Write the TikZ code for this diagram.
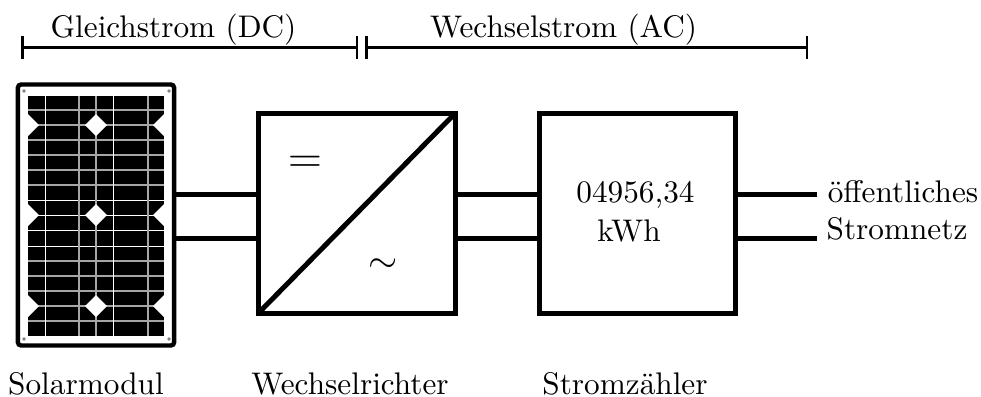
\documentclass[tikz,border=0pt]{standalone}
\usetikzlibrary{arrows.meta}
\tikzset{
    block/.style={draw, line width=1.6pt, minimum width=63pt, minimum height=64pt, inner sep=0pt},
    wire/.style={line width=1.6pt},
    span/.style={line width=.95pt, {Bar[width=7.4pt,line width=.8pt]}-{Bar[width=7.4pt,line width=.8pt]}},
    caption/.style={inner sep=0pt, anchor=base},
    cellline/.style={gray!70, line width=.35pt},
    brightline/.style={white, line width=.3pt},
    gap/.style={fill=white, draw=none},
    screw/.style={circle, fill=gray, inner sep=0pt, minimum size=1.2pt}
}
\begin{document}
\begin{tikzpicture}[x=.32pt, y=-.32pt]
    \useasboundingbox (0,0) rectangle (981,396);
    % module
    \node (panel) [draw, line width=1.4pt, rounded corners=1pt, minimum width=50pt, minimum height=83.5pt, inner sep=0pt] at (96,215) {};
    \fill (28,96) rectangle (164,336);
    \foreach \y in {110,125,140,155,170,185,261,276,291,306,321}
        \draw [cellline] (28,\y) -- (164,\y);
    \foreach \y in {200,215,230,246}
        \draw [brightline] (28,\y) -- (164,\y);
    \foreach \x in {79,96,148}
        \draw [cellline] (\x,96) -- (\x,336);
    \foreach \x in {45,113}
        \draw [brightline] (\x,96) -- (\x,336);
    \foreach \y in {125,215,306} {
        \fill [gap] (96,\y-11) -- (107,\y) -- (96,\y+11) -- (85,\y) -- cycle;
        \fill [gap] (28,\y-11) -- (39,\y) -- (28,\y+11) -- cycle;
        \fill [gap] (164,\y-11) -- (153,\y) -- (164,\y+11) -- cycle;
    }
    \node [screw] at (24,91) {};
    \node [screw] at (169,91) {};
    \node [screw] at (24,339) {};
    \node [screw] at (169,339) {};
    % boxes
    \node (inv) [block] at (357,213) {};
    \node (meter) [block] at (637.5,213) {};
    \draw [wire, shorten >=2pt, shorten <=2pt] (inv.south west) -- (inv.north east);
    \node at (305,164) {\Large$=$};
    \node at (383,266) {\large$\sim$};
    \node [caption] at (635.5,202) {04956,34};
    \node [caption] at (629,241) {kWh};
    % wires
    \coordinate (out1) at (817,194);
    \coordinate (out2) at (817,238.5);
    \draw [wire] (panel.east |- 0,194) -- (inv.west |- 0,194);
    \draw [wire] (panel.east |- 0,238.5) -- (inv.west |- 0,238.5);
    \draw [wire] (inv.east |- 0,194) -- (meter.west |- 0,194);
    \draw [wire] (inv.east |- 0,238.5) -- (meter.west |- 0,238.5);
    \draw [wire] (meter.east |- 0,194) -- (out1);
    \draw [wire] (meter.east |- 0,238.5) -- (out2);
    \node [caption] at (903,202) {öffentliches};
    \node [caption] at (897,239) {Stromnetz};
    % spans
    \coordinate (dc1) at (21,47.5);
    \coordinate (dc2) at (358,47.5);
    \coordinate (ac1) at (365,47.5);
    \coordinate (ac2) at (808,47.5);
    \draw [span] (dc1) -- (dc2);
    \draw [span] (ac1) -- (ac2);
    \node [caption] at (173.5,37) {Gleichstrom (DC)};
    \node [caption] at (563.5,37) {Wechselstrom (AC)};
    % names
    \node [caption] at (86,394) {Solarmodul};
    \node [caption] at (350,394) {Wechselrichter};
    \node [caption] at (625,394) {Stromzähler};
\end{tikzpicture}
\end{document}
